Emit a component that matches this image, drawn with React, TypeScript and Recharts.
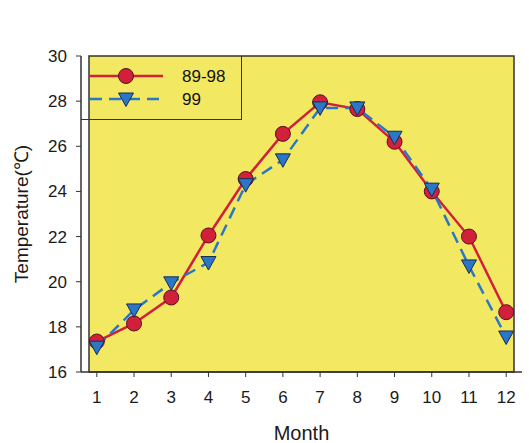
import React from 'react';
import { LineChart, Line, XAxis, YAxis, ReferenceArea, Label } from 'recharts';

const months = [1, 2, 3, 4, 5, 6, 7, 8, 9, 10, 11, 12];
const avg8998 = [17.35, 18.15, 19.3, 22.05, 24.55, 26.55, 27.95, 27.65, 26.2, 24.0, 22.0, 18.65];
const y99 = [17.1, 18.75, 19.95, 20.85, 24.3, 25.4, 27.7, 27.7, 26.4, 24.1, 20.7, 17.55];
const yTicks = [16, 18, 20, 22, 24, 26, 28, 30];

const data = months.map((m, i) => ({ month: m, a: avg8998[i], b: y99[i] }));

const RED = '#d0203a';
const BLUE = '#2a77c8';
const YELLOW = '#f3e861';
const DARK = '#333333';
const FONT = 'Liberation Sans, Arial, sans-serif';

const CircleDot = (props: any) => {
  const { cx, cy } = props;
  if (cx == null || cy == null) return null;
  return <circle cx={cx} cy={cy} r={7.5} fill={RED} stroke="#5a1020" strokeWidth={1} />;
};

const TriDot = (props: any) => {
  const { cx, cy } = props;
  if (cx == null || cy == null) return null;
  return (
    <path
      d={`M${cx - 7.5},${cy - 6} L${cx + 7.5},${cy - 6} L${cx},${cy + 7.5} Z`}
      fill={BLUE}
      stroke="#1a2a50"
      strokeWidth={1}
    />
  );
};

const LegendBox = () => (
  <div
    style={{
      position: 'absolute',
      left: 81,
      top: 56,
      width: 161,
      height: 64,
      borderRight: `1.5px solid ${DARK}`,
      borderBottom: `1.5px solid ${DARK}`,
      boxSizing: 'border-box',
      fontFamily: FONT,
      pointerEvents: 'none',
    }}
  >
    <svg width={159} height={62} style={{ display: 'block' }}>
      <line x1={9} y1={20} x2={82} y2={20} stroke={RED} strokeWidth={2.5} />
      <circle cx={45} cy={20} r={7.5} fill={RED} stroke="#5a1020" strokeWidth={1} />
      <text x={101} y={26} fontSize={17} fill="#111" fontFamily={FONT}>89-98</text>
      <line x1={9} y1={43} x2={82} y2={43} stroke={BLUE} strokeWidth={2.5} strokeDasharray="12 7" />
      <path d="M37.5,37 L52.5,37 L45,50.5 Z" fill={BLUE} stroke="#1a2a50" strokeWidth={1} />
      <text x={101} y={49} fontSize={17} fill="#111" fontFamily={FONT}>99</text>
    </svg>
  </div>
);

export default function App() {
  return (
    <div style={{ position: 'absolute', left: 0, top: 0, width: 529, height: 443, background: '#ffffff' }}>
      <LineChart
        width={529}
        height={443}
        data={data}
        margin={{ top: 56, right: 7, bottom: 41, left: 31 }}
      >
        <XAxis
          dataKey="month"
          type="number"
          domain={[1, 12]}
          ticks={months}
          padding={{ left: 8, right: 8 }}
          height={30}
          axisLine={{ stroke: DARK, strokeWidth: 1.5 }}
          tickLine={{ stroke: DARK }}
          tickSize={5}
          tickMargin={14}
          tick={{ fill: '#1a1a1a', fontSize: 17, fontFamily: FONT }}
          interval={0}
        >
          <Label
            value="Month"
            position="bottom"
            offset={24}
            style={{ fill: '#1a1a1a', fontSize: 20, fontFamily: FONT }}
          />
        </XAxis>
        <YAxis
          type="number"
          domain={[16, 30]}
          ticks={yTicks}
          width={50}
          axisLine={{ stroke: DARK, strokeWidth: 1.5 }}
          tickLine={{ stroke: DARK }}
          tickSize={5}
          tickMargin={9}
          tick={{ fill: '#1a1a1a', fontSize: 17, fontFamily: FONT }}
          interval={0}
        >
          <Label
            value="Temperature(℃)"
            angle={-90}
            position="insideLeft"
            offset={-10}
            style={{ textAnchor: 'middle', fill: '#1a1a1a', fontSize: 19, fontFamily: FONT }}
          />
        </YAxis>
        <ReferenceArea
          x1={0.79}
          x2={12.21}
          y1={16}
          y2={30}
          fill={YELLOW}
          fillOpacity={1}
          stroke={DARK}
          strokeWidth={1.5}
          ifOverflow="extendDomain"
        />
        <Line
          dataKey="a"
          stroke={RED}
          strokeWidth={2.5}
          dot={<CircleDot />}
          isAnimationActive={false}
        />
        <Line
          dataKey="b"
          stroke={BLUE}
          strokeWidth={2.5}
          strokeDasharray="12 7"
          dot={<TriDot />}
          isAnimationActive={false}
        />
      </LineChart>
      <LegendBox />
    </div>
  );
}
